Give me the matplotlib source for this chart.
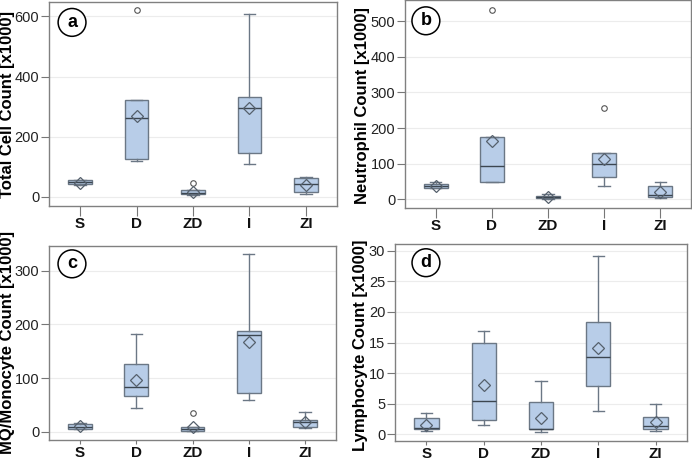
import matplotlib
matplotlib.use("Agg")
import matplotlib.pyplot as plt

plt.rcParams['font.family'] = ['Liberation Sans', 'DejaVu Sans']

groups = ["S", "D", "ZD", "I", "ZI"]

# Panel a: Total cell count
a_q1 = [43, 126, 9, 145, 15]
a_med = [49, 264, 14, 296, 43]
a_q3 = [55, 321, 23, 333, 62]
a_lo = [40, 119, 7, 110, 11]
a_hi = [58, 321, 23, 608, 66]
a_mean = [48, 268, 18, 297, 40]
a_fl = [[], [620], [47], [], []]

# Panel b: Neutrophil count
b_q1 = [32, 49, 4, 63, 6]
b_med = [37, 93, 6.5, 98, 11]
b_q3 = [43, 175, 9, 131, 36]
b_lo = [30, 49, 0, 37, 4]
b_hi = [48, 175, 15, 131, 49]
b_mean = [38, 164, 6.5, 114, 20]
b_fl = [[], [533], [], [257], []]

# Panel c: MQ/Monocyte count
c_q1 = [6, 66, 2.5, 72.5, 9]
c_med = [10, 84, 6, 181, 18]
c_q3 = [15, 126, 10, 187, 22]
c_lo = [5, 44, 1, 60, 7]
c_hi = [16, 183, 10, 332, 37.5]
c_mean = [11, 96, 9, 168, 19]
c_fl = [[], [], [35], [], []]

# Panel d: Lymphocyte count
d_q1 = [0.8, 2.4, 0.9, 7.97, 0.8]
d_med = [0.96, 5.4, 0.9, 12.7, 1.39]
d_q3 = [2.6, 14.9, 5.35, 18.3, 2.78]
d_lo = [0.6, 1.55, 0.37, 3.85, 0.48]
d_hi = [3.5, 16.8, 8.66, 29.2, 4.87]
d_mean = [1.45, 8.1, 2.7, 14.1, 2.03]
d_fl = [[], [], [], [], []]

W, H = 692, 463

panels = [
    dict(letter="a", ylabel="Total Cell Count [x1000]", q1=a_q1, med=a_med, q3=a_q3, lo=a_lo, hi=a_hi, mean=a_mean, fl=a_fl,
         ylim=(-30, 648), yticks=[0, 200, 400, 600], box=(49, 2, 337, 206), lab=(8, 105), circ=(0.08, 0.90), tl=7),
    dict(letter="b", ylabel="Neutrophil Count [x1000]", q1=b_q1, med=b_med, q3=b_q3, lo=b_lo, hi=b_hi, mean=b_mean, fl=b_fl,
         ylim=(-25, 560), yticks=[0, 100, 200, 300, 400, 500], box=(405, 0, 691, 208), lab=(362, 106), circ=(0.073, 0.90), tl=7),
    dict(letter="c", ylabel="MQ/Monocyte Count [x1000]", q1=c_q1, med=c_med, q3=c_q3, lo=c_lo, hi=c_hi, mean=c_mean, fl=c_fl,
         ylim=(-15, 346), yticks=[0, 100, 200, 300], box=(49, 246, 336, 440), lab=(8, 343), circ=(0.08, 0.908), tl=3),
    dict(letter="d", ylabel="Lymphocyte Count [x1000]", q1=d_q1, med=d_med, q3=d_q3, lo=d_lo, hi=d_hi, mean=d_mean, fl=d_fl,
         ylim=(-1.1, 31.1), yticks=[0, 5, 10, 15, 20, 25, 30], box=(395, 244, 687, 441), lab=(361, 345), circ=(0.106, 0.905), tl=3),
]

fig = plt.figure(figsize=(W / 100, H / 100), dpi=100)

box_face = "#b8cde8"
edge = "#6b7785"
for p in panels:
    x0, y0, x1, y1 = p["box"]
    ax = fig.add_axes([x0 / W, 1 - y1 / H, (x1 - x0) / W, (y1 - y0) / H])
    stats = []
    for i, g in enumerate(groups):
        stats.append(dict(label=g, q1=p["q1"][i], med=p["med"][i], q3=p["q3"][i],
                          whislo=p["lo"][i], whishi=p["hi"][i], mean=p["mean"][i],
                          fliers=p["fl"][i]))
    ax.bxp(stats, positions=range(len(groups)), widths=0.42, patch_artist=True,
           showmeans=True, capwidths=0.2,
           boxprops=dict(facecolor=box_face, edgecolor=edge, linewidth=1.0),
           medianprops=dict(color="#3c4650", linewidth=1.0),
           whiskerprops=dict(color=edge, linewidth=1.0),
           capprops=dict(color=edge, linewidth=1.0),
           meanprops=dict(marker="D", markerfacecolor="none", markeredgecolor="#55606c",
                          markersize=6, markeredgewidth=0.9),
           flierprops=dict(marker="o", markerfacecolor="none", markeredgecolor="#555555",
                           markersize=4, markeredgewidth=0.8))
    ax.set_xlim(-0.55, 4.55)
    ax.set_ylim(*p["ylim"])
    ax.set_yticks(p["yticks"])
    ax.set_xticks(range(len(groups)))
    ax.set_xticklabels(groups, fontweight="bold", fontsize=11)
    ax.tick_params(axis="x", length=p["tl"], color="#777777", pad=1, labelcolor="#111111")
    ax.tick_params(axis="y", length=6, color="#777777", labelsize=10.5, labelcolor="#222222", pad=1)
    ax.yaxis.grid(True, color="#ececec", linewidth=0.8)
    ax.set_axisbelow(True)
    for s in ax.spines.values():
        s.set_color("#808080")
        s.set_linewidth(1.0)
    fig.text(p["lab"][0] / W, 1 - p["lab"][1] / H, p["ylabel"], rotation=90,
             ha="center", va="center", fontweight="bold", fontsize=12)
    ax.annotate(p["letter"], xy=p["circ"], xycoords="axes fraction",
                ha="center", va="center", fontsize=13, fontweight="bold",
                bbox=dict(boxstyle="circle,pad=0.3", facecolor="white", edgecolor="black", linewidth=1.1))

fig.savefig("out.png", dpi=100)
